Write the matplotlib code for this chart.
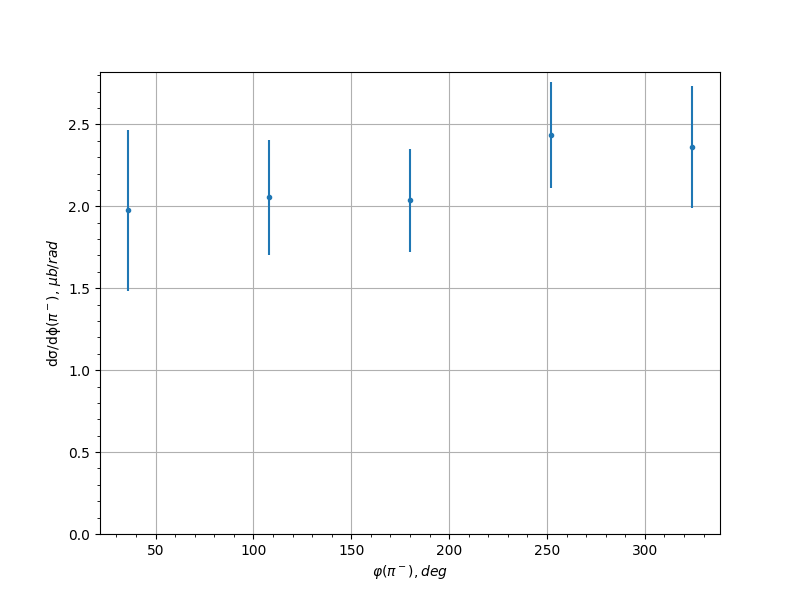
import matplotlib
matplotlib.use('Agg')
import matplotlib.pyplot as plt

phi_deg = [36, 108, 180, 252, 324]
dsigma = [1.975, 2.055, 2.037, 2.433, 2.362]
dsigma_err = [0.49, 0.35, 0.315, 0.323, 0.37]

fig, ax = plt.subplots(figsize=(8, 6), dpi=100)
ax.errorbar(phi_deg, dsigma, yerr=dsigma_err, fmt='.')
ax.set_ylim(bottom=0)
ax.minorticks_on()
ax.grid(True, which='major')
ax.set_xlabel(r'$\varphi(\pi^-), deg$')
ax.set_ylabel(r'dσ/dϕ($\pi^-$), $\mu b/rad$')
fig.savefig('out.png')
